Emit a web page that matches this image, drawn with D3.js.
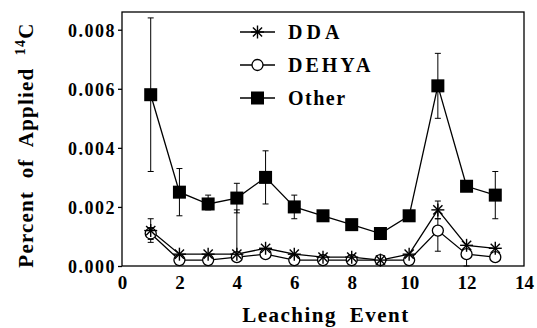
<!DOCTYPE html>
<html>
<head>
<meta charset="utf-8">
<script src="https://cdn.jsdelivr.net/npm/d3@7"></script>
<style>
  body { margin: 0; background: #fff; }
</style>
</head>
<body>
<div id="chart"></div>
<script>
// data
const events = [1, 2, 3, 4, 5, 6, 7, 8, 9, 10, 11, 12, 13];
const other    = [0.0058, 0.0025, 0.0021, 0.0023, 0.0030, 0.0020, 0.0017, 0.0014, 0.0011, 0.0017, 0.0061, 0.0027, 0.0024];
const otherLo  = [0.0032, 0.0017, 0.0019, 0.0018, 0.0021, 0.0016, null, null, null, null, 0.0050, null, 0.0016];
const otherHi  = [0.0084, 0.0033, 0.0024, 0.0028, 0.0039, 0.0024, null, null, null, null, 0.0072, null, 0.0032];
const dda      = [0.0012, 0.0004, 0.0004, 0.0004, 0.0006, 0.0004, 0.0003, 0.0003, 0.0002, 0.0004, 0.0019, 0.0007, 0.0006];
const ddaLo    = [0.0009, null, null, 0.0004, null, null, null, null, null, null, 0.0016, null, null];
const ddaHi    = [0.0016, null, null, 0.0019, null, null, null, null, null, null, 0.0022, null, null];
const dehya    = [0.0011, 0.0002, 0.0002, 0.0003, 0.0004, 0.0002, 0.0002, 0.0002, 0.0002, 0.0002, 0.0012, 0.0004, 0.0003];
const dehyaLo  = [0.0008, null, null, null, null, null, null, null, null, null, 0.0005, 0.0000, null];
const dehyaHi  = [0.0013, null, null, null, null, null, null, null, null, null, 0.0016, null, null];
const xTicks = [0, 2, 4, 6, 8, 10, 12, 14];
const yTicks = [0, 0.002, 0.004, 0.006, 0.008];

const W = 537, H = 328;
const margin = { top: 12, left: 122, right: 13, bottom: 62 };
const FONT = "'Liberation Serif', 'Times New Roman', 'DejaVu Serif', serif";

const svg = d3.select('#chart').append('svg')
  .attr('width', W).attr('height', H)
  .style('font-family', FONT).style('font-weight', 'bold');

const x = d3.scaleLinear().domain([0, 14]).range([margin.left, W - margin.right]);
const y = d3.scaleLinear().domain([0, 0.0086]).range([H - margin.bottom, margin.top]);

// frame
svg.append('rect')
  .attr('x', margin.left).attr('y', margin.top)
  .attr('width', W - margin.left - margin.right)
  .attr('height', H - margin.top - margin.bottom)
  .attr('fill', 'none').attr('stroke', '#000').attr('stroke-width', 1.3);

// y axis
const yAxis = svg.append('g')
  .attr('transform', `translate(${margin.left},0)`)
  .call(d3.axisLeft(y).tickValues(yTicks).tickFormat(d3.format('.3f')).tickSize(4).tickPadding(2));
yAxis.attr('font-family', null).attr('font-size', null);
yAxis.select('.domain').remove();
yAxis.selectAll('line').attr('stroke-width', 1.3);
yAxis.selectAll('text')
  .style('font-family', FONT).style('font-weight', 'bold')
  .attr('font-size', 18).attr('letter-spacing', 1.5).attr('dy', '0.35em');

// x axis
const xAxis = svg.append('g')
  .attr('transform', `translate(0,${H - margin.bottom})`)
  .call(d3.axisBottom(x).tickValues(xTicks).tickSize(0).tickPadding(10));
xAxis.attr('font-family', null).attr('font-size', null);
xAxis.select('.domain').remove();
xAxis.selectAll('text')
  .style('font-family', FONT).style('font-weight', 'bold')
  .attr('font-size', 19);

// axis titles
svg.append('text')
  .attr('x', 326).attr('y', 322)
  .attr('text-anchor', 'middle')
  .attr('font-size', 21).attr('word-spacing', 6).attr('letter-spacing', 1.5)
  .text('Leaching Event');

const yt = svg.append('text')
  .attr('transform', 'translate(33,145) rotate(-90)')
  .attr('text-anchor', 'middle')
  .attr('font-size', 21).attr('word-spacing', 6).attr('letter-spacing', 1.2);
yt.append('tspan').text('Percent of Applied ');
yt.append('tspan').attr('font-size', 14).attr('dy', -8).text('14');
yt.append('tspan').attr('dy', 8).text('C');

const line = d3.line().x((d, i) => x(events[i])).y(d => y(d));
const plot = svg.append('g');

function errorBars(vals, lo, hi) {
  events.forEach((e, i) => {
    const cx = x(e);
    [lo[i], hi[i]].forEach(v => {
      if (v === null) return;
      plot.append('line')
        .attr('x1', cx).attr('x2', cx)
        .attr('y1', y(vals[i])).attr('y2', y(v))
        .attr('stroke', '#000').attr('stroke-width', 1);
      plot.append('line')
        .attr('x1', cx - 3).attr('x2', cx + 3)
        .attr('y1', y(v)).attr('y2', y(v))
        .attr('stroke', '#000').attr('stroke-width', 1);
    });
  });
}

errorBars(other, otherLo, otherHi);
errorBars(dda, ddaLo, ddaHi);
errorBars(dehya, dehyaLo, dehyaHi);

[dehya, dda, other].forEach(s => {
  plot.append('path').datum(s)
    .attr('d', line)
    .attr('fill', 'none').attr('stroke', '#000').attr('stroke-width', 1.3);
});

// markers
function star(g, cx, cy, r) {
  for (let k = 0; k < 4; k++) {
    const a = k * Math.PI / 4;
    g.append('line')
      .attr('x1', cx - r * Math.cos(a)).attr('y1', cy - r * Math.sin(a))
      .attr('x2', cx + r * Math.cos(a)).attr('y2', cy + r * Math.sin(a))
      .attr('stroke', '#000').attr('stroke-width', 1.4);
  }
}
function circle(g, cx, cy) {
  g.append('circle').attr('cx', cx).attr('cy', cy).attr('r', 5.5)
    .attr('fill', '#fff').attr('stroke', '#000').attr('stroke-width', 1.3);
}
function square(g, cx, cy) {
  g.append('rect').attr('x', cx - 6.5).attr('y', cy - 6.5)
    .attr('width', 13).attr('height', 13).attr('fill', '#000');
}

events.forEach((e, i) => circle(plot, x(e), y(dehya[i])));
events.forEach((e, i) => star(plot, x(e), y(dda[i]), 6.5));
events.forEach((e, i) => square(plot, x(e), y(other[i])));

// legend
const legend = [
  { name: 'DDA', mark: star, ls: 4 },
  { name: 'DEHYA', mark: circle, ls: 3 },
  { name: 'Other', mark: square, ls: 1.5 }
];
legend.forEach((d, i) => {
  const ly = 32 + i * 33;
  const g = svg.append('g');
  g.append('line').attr('x1', 240).attr('x2', 275).attr('y1', ly).attr('y2', ly)
    .attr('stroke', '#000').attr('stroke-width', 1.3);
  d.mark(g, 257.5, ly, 6.5);
  g.append('text').attr('x', 288).attr('y', ly).attr('dy', '0.35em')
    .attr('font-size', 20).attr('letter-spacing', d.ls).text(d.name);
});
</script>
</body>
</html>
